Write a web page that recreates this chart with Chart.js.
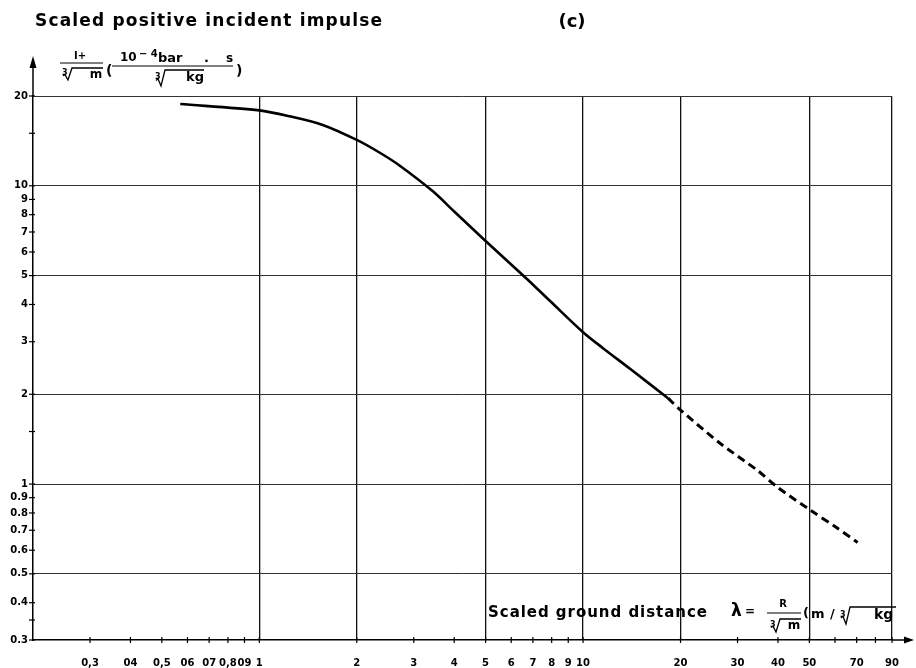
<!DOCTYPE html>
<html>
<head>
<meta charset="utf-8">
<script src="https://cdn.jsdelivr.net/npm/chart.js@4/dist/chart.umd.min.js"></script>
<style>
  html, body { margin: 0; padding: 0; background: #fff; }
  #c { display: block; }
</style>
</head>
<body>
<canvas id="c" width="916" height="668"></canvas>
<script>
// Scaled positive incident impulse vs. scaled ground distance (log-log)
const solidDistance = [0.57, 1.0, 1.24, 1.57, 2.0, 2.35, 2.71, 3.43, 4.0, 5.0, 6.71, 8.0, 10, 11.5, 14, 18.3];
const solidImpulse  = [18.8, 17.9, 17.1, 16.0, 14.25, 12.93, 11.7, 9.6, 8.2, 6.53, 4.87, 4.06, 3.23, 2.86, 2.43, 1.94];
const dashedDistance = [18.3, 20, 26.5, 34.6, 39.9, 50.4, 60, 70.5];
const dashedImpulse  = [1.94, 1.77, 1.37, 1.11, 0.975, 0.817, 0.72, 0.637];

const xTickValues = [0.3, 0.4, 0.5, 0.6, 0.7, 0.8, 0.9, 1, 2, 3, 4, 5, 6, 7, 8, 9, 10, 20, 30, 40, 50, 60, 70, 80, 90];
const xTickLabels = ['0,3', '04', '0,5', '06', '07', '0,8', '09', '1', '2', '3', '4', '5', '6', '7', '8', '9', '10', '20', '30', '40', '50', '', '70', '', '90'];
const yTickValues = [20, 15, 10, 9, 8, 7, 6, 5, 4, 3, 2, 1.5, 1, 0.9, 0.8, 0.7, 0.6, 0.5, 0.4, 0.35, 0.3];
const yTickLabels = ['20', '', '10', '9', '8', '7', '6', '5', '4', '3', '2', '', '1', '0.9', '0.8', '0.7', '0.6', '0.5', '0.4', '', '0.3'];
const xGridValues = [1, 2, 5, 10, 20, 50, 90];
const yGridValues = [0.5, 1, 2, 5, 10, 20];

const FONT = '"DejaVu Sans", sans-serif';

function toPoints(xs, ys) { return xs.map((x, i) => ({ x: x, y: ys[i] })); }

// text stretched with letter spacing so it covers a given width
function spreadText(ctx, str, x, y, width, font) {
  ctx.font = font;
  ctx.letterSpacing = '0px';
  const w = ctx.measureText(str).width;
  const n = [...str].length;
  const ls = n > 1 ? (width - w) / (n - 1) : 0;
  ctx.letterSpacing = ls + 'px';
  ctx.textAlign = 'left';
  ctx.textBaseline = 'middle';
  ctx.fillText(str, x, y);
  ctx.letterSpacing = '0px';
}

function plainText(ctx, str, x, y, font, align) {
  ctx.font = font;
  ctx.textAlign = align || 'left';
  ctx.textBaseline = 'middle';
  ctx.fillText(str, x, y);
}

// cube-root sign: index "3", radical stroke, vinculum up to xEnd
function cubeRoot(ctx, x0, yBase, h, xEnd) {
  plainText(ctx, '3', x0, yBase - h * 0.55, 'bold 8px ' + FONT, 'left');
  ctx.save();
  ctx.lineWidth = 1.3;
  ctx.strokeStyle = '#000';
  ctx.beginPath();
  ctx.moveTo(x0 + 1, yBase - h * 0.35);
  ctx.lineTo(x0 + 3, yBase - h * 0.45);
  ctx.lineTo(x0 + 6, yBase);
  ctx.lineTo(x0 + 10, yBase - h);
  ctx.lineTo(xEnd, yBase - h);
  ctx.stroke();
  ctx.restore();
}

function hLine(ctx, x1, x2, y, w) {
  ctx.save();
  ctx.lineWidth = w || 1.2;
  ctx.strokeStyle = '#000';
  ctx.beginPath();
  ctx.moveTo(x1, y);
  ctx.lineTo(x2, y);
  ctx.stroke();
  ctx.restore();
}

const decorations = {
  id: 'decorations',
  beforeDraw(chart) {
    const ctx = chart.ctx;
    ctx.save();
    ctx.fillStyle = '#fff';
    ctx.fillRect(0, 0, chart.width, chart.height);
    ctx.restore();
  },
  afterDraw(chart) {
    const ctx = chart.ctx;
    const xs = chart.scales.x, ys = chart.scales.y;
    const area = chart.chartArea;
    ctx.save();
    ctx.fillStyle = '#000';
    ctx.strokeStyle = '#000';

    // x-axis tick crosses and labels
    ctx.lineWidth = 1.2;
    xTickValues.forEach((v, i) => {
      const px = xs.getPixelForValue(v);
      ctx.beginPath();
      ctx.moveTo(px, area.bottom - 3);
      ctx.lineTo(px, area.bottom + 3);
      ctx.stroke();
      if (xTickLabels[i]) plainText(ctx, xTickLabels[i], px, area.bottom + 23, 'bold 10px ' + FONT, 'center');
    });

    // y-axis ticks and labels
    yTickValues.forEach((v, i) => {
      const py = ys.getPixelForValue(v);
      ctx.beginPath();
      ctx.moveTo(area.left - 4, py);
      ctx.lineTo(area.left + 2, py);
      ctx.stroke();
      if (yTickLabels[i]) plainText(ctx, yTickLabels[i], area.left - 5, py, 'bold 10px ' + FONT, 'right');
    });

    // axis arrows
    ctx.lineWidth = 1.5;
    ctx.beginPath();
    ctx.moveTo(area.right, area.bottom);
    ctx.lineTo(area.right + 16, area.bottom);
    ctx.stroke();
    ctx.beginPath();
    ctx.moveTo(area.right + 22, area.bottom);
    ctx.lineTo(area.right + 12, area.bottom - 3.5);
    ctx.lineTo(area.right + 12, area.bottom + 3.5);
    ctx.closePath();
    ctx.fill();
    ctx.beginPath();
    ctx.moveTo(area.left, area.top);
    ctx.lineTo(area.left, 66);
    ctx.stroke();
    ctx.beginPath();
    ctx.moveTo(area.left, 56);
    ctx.lineTo(area.left - 3.5, 68);
    ctx.lineTo(area.left + 3.5, 68);
    ctx.closePath();
    ctx.fill();

    // headings
    spreadText(ctx, 'Scaled positive incident impulse', 35, 22, 347, 'bold 17px ' + FONT);
    plainText(ctx, '(c)', 572, 22, 'bold 18px ' + FONT, 'center');

    // y-axis unit: I+ / cbrt(m)  (10^-4 bar.s / cbrt(kg))
    plainText(ctx, 'I+', 80, 56, 'bold 10px ' + FONT, 'center');
    hLine(ctx, 60, 103, 63, 1);
    cubeRoot(ctx, 62, 80, 12, 103);
    plainText(ctx, 'm', 96, 75, 'bold 12px ' + FONT, 'center');
    plainText(ctx, '(', 106, 71, 'bold 14px ' + FONT, 'left');
    plainText(ctx, '10', 120, 58, 'bold 12px ' + FONT, 'left');
    plainText(ctx, '\u2212 4', 139, 54, 'bold 10px ' + FONT, 'left');
    plainText(ctx, 'bar', 158, 59, 'bold 13px ' + FONT, 'left');
    plainText(ctx, '.', 204, 59, 'bold 13px ' + FONT, 'left');
    plainText(ctx, 's', 226, 59, 'bold 12px ' + FONT, 'left');
    hLine(ctx, 112, 233, 66, 1);
    cubeRoot(ctx, 155, 86, 16, 204);
    plainText(ctx, 'kg', 186, 78, 'bold 13px ' + FONT, 'left');
    plainText(ctx, ')', 236, 71, 'bold 14px ' + FONT, 'left');

    // x-axis caption inside the plot
    spreadText(ctx, 'Scaled ground distance', 488, 613, 219, 'bold 15px ' + FONT);
    plainText(ctx, '\u03BB', 731, 612, 'bold 17px ' + FONT, 'left');
    plainText(ctx, '=', 745, 612, 'bold 12px ' + FONT, 'left');
    plainText(ctx, 'R', 783, 604, 'bold 10px ' + FONT, 'center');
    hLine(ctx, 767, 801, 613, 1);
    cubeRoot(ctx, 770, 632, 13, 801);
    plainText(ctx, 'm', 794, 626, 'bold 12px ' + FONT, 'center');
    plainText(ctx, '(', 803, 614, 'bold 13px ' + FONT, 'left');
    plainText(ctx, 'm', 811, 615, 'bold 13px ' + FONT, 'left');
    plainText(ctx, '/', 830, 615, 'bold 13px ' + FONT, 'left');
    cubeRoot(ctx, 840, 624, 17, 896);
    plainText(ctx, 'kg', 874, 615, 'bold 14px ' + FONT, 'left');

    ctx.restore();
  }
};

new Chart(document.getElementById('c'), {
  type: 'line',
  data: {
    datasets: [
      {
        data: toPoints(solidDistance, solidImpulse),
        borderColor: '#000',
        borderWidth: 2.6,
        pointRadius: 0,
        tension: 0.3,
        fill: false
      },
      {
        data: toPoints(dashedDistance, dashedImpulse),
        borderColor: '#000',
        borderWidth: 3,
        borderDash: [8, 5],
        pointRadius: 0,
        tension: 0.3,
        fill: false
      }
    ]
  },
  options: {
    responsive: false,
    devicePixelRatio: 1,
    animation: false,
    layout: { padding: { left: 33, right: 24, top: 96, bottom: 28 } },
    plugins: { legend: { display: false }, tooltip: { enabled: false }, title: { display: false } },
    scales: {
      x: {
        type: 'logarithmic',
        min: 0.2,
        max: 90,
        bounds: 'data',
        afterBuildTicks: (scale) => { scale.ticks = xGridValues.map(v => ({ value: v })); },
        ticks: { display: false },
        grid: { color: '#111', lineWidth: 1.3, drawTicks: false },
        border: { display: true, color: '#000', width: 1.5 }
      },
      y: {
        type: 'logarithmic',
        min: 0.3,
        max: 20,
        bounds: 'data',
        afterBuildTicks: (scale) => { scale.ticks = yGridValues.map(v => ({ value: v })); },
        ticks: { display: false },
        grid: { color: '#333', lineWidth: 1, drawTicks: false },
        border: { display: true, color: '#000', width: 1.5 }
      }
    }
  },
  plugins: [decorations]
});
</script>
</body>
</html>
